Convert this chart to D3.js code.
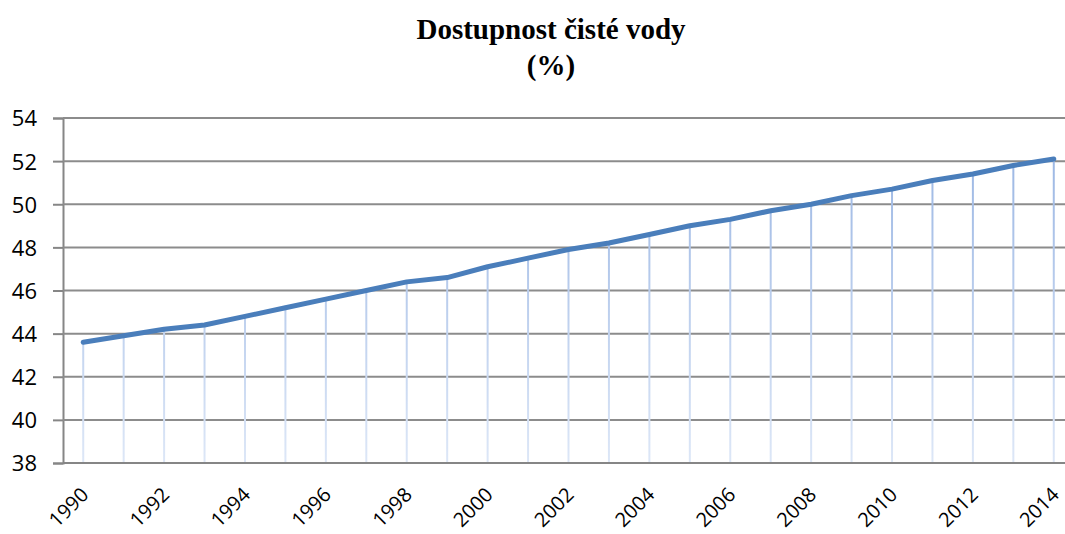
<!DOCTYPE html>
<html>
<head>
<meta charset="utf-8">
<script src="https://cdn.jsdelivr.net/npm/d3@7"></script>
<style>
  body { margin: 0; background: #fff; }
  svg { display: block; }
</style>
</head>
<body>
<div id="chart"></div>
<script>
// values
const years = d3.range(1990, 2015).map(String);
const waterAccess = [43.6, 43.9, 44.2, 44.4, 44.8, 45.2, 45.6, 46.0, 46.4, 46.6,
                     47.1, 47.5, 47.9, 48.2, 48.6, 49.0, 49.3, 49.7, 50.0, 50.4,
                     50.7, 51.1, 51.4, 51.8, 52.1];
const yTicks = [38, 40, 42, 44, 46, 48, 50, 52, 54];
const xLabels = years.filter((d, i) => i % 2 === 0);
const titleLines = ['Dostupnost čisté vody', '(%)'];

const width = 1065;
const height = 534;
const margin = { top: 118, right: -9, bottom: 71, left: 63 };
const labelFont = '"Open Sans", "Liberation Sans", sans-serif';

const svg = d3.select('#chart')
  .append('svg')
  .attr('width', width)
  .attr('height', height);

const x = d3.scalePoint()
  .domain(years)
  .range([margin.left, width - margin.right])
  .padding(0.5);

const y = d3.scaleLinear()
  .domain([38, 54])
  .range([height - margin.bottom, margin.top]);

// fading drop lines
const defs = svg.append('defs');
const grad = defs.append('linearGradient')
  .attr('id', 'dropFade')
  .attr('gradientUnits', 'userSpaceOnUse')
  .attr('x1', 0).attr('x2', 0)
  .attr('y1', y(52)).attr('y2', y(38));
grad.append('stop').attr('offset', '0%').attr('stop-color', '#9db8e4');
grad.append('stop').attr('offset', '100%').attr('stop-color', '#dde7f7');

// y axis
const yAxis = svg.append('g')
  .attr('transform', `translate(${margin.left},0)`)
  .call(d3.axisLeft(y).tickValues(yTicks).tickSize(10).tickPadding(16));
yAxis.select('.domain').attr('stroke', '#868686').attr('stroke-width', 2);
yAxis.selectAll('.tick line').attr('stroke', '#868686').attr('stroke-width', 2);
yAxis.selectAll('.tick text')
  .attr('fill', '#000')
  .attr('dy', '0.36em')
  .style('font-family', labelFont)
  .style('font-size', '22px');

// horizontal gridlines
svg.append('g')
  .selectAll('line')
  .data(yTicks.slice(1))
  .enter()
  .append('line')
  .attr('x1', margin.left)
  .attr('x2', width)
  .attr('y1', d => y(d))
  .attr('y2', d => y(d))
  .attr('stroke', '#8c8c8c')
  .attr('stroke-width', 2);

// drop lines
svg.append('g')
  .selectAll('line')
  .data(waterAccess)
  .enter()
  .append('line')
  .attr('x1', (d, i) => x(years[i]))
  .attr('x2', (d, i) => x(years[i]))
  .attr('y1', d => y(d))
  .attr('y2', y(38))
  .attr('stroke', 'url(#dropFade)')
  .attr('stroke-width', 2);

// x axis
const xAxis = svg.append('g')
  .attr('transform', `translate(0,${y(38)})`)
  .call(d3.axisBottom(x).tickValues(xLabels).tickSize(0).tickPadding(0));
xAxis.select('.domain').remove();
svg.append('line')
  .attr('x1', margin.left).attr('x2', width)
  .attr('y1', y(38)).attr('y2', y(38))
  .attr('stroke', '#868686').attr('stroke-width', 2);
xAxis.selectAll('.tick text')
  .attr('fill', '#000')
  .style('font-family', labelFont)
  .style('font-size', '20px')
  .attr('text-anchor', 'end')
  .attr('y', 0)
  .attr('dy', 0)
  .attr('transform', 'translate(6,33) rotate(-45)');

// series line
const line = d3.line()
  .x((d, i) => x(years[i]))
  .y(d => y(d));

svg.append('path')
  .datum(waterAccess)
  .attr('d', line)
  .attr('fill', 'none')
  .attr('stroke', '#4a7ebb')
  .attr('stroke-width', 5)
  .attr('stroke-linejoin', 'round')
  .attr('stroke-linecap', 'round');

// title
svg.append('text')
  .attr('text-anchor', 'middle')
  .style('font-family', '"Liberation Serif", "Times New Roman", serif')
  .style('font-weight', 'bold')
  .style('font-size', '29px')
  .selectAll('tspan')
  .data(titleLines)
  .enter()
  .append('tspan')
  .attr('x', 551)
  .attr('y', (d, i) => 39 + i * 36)
  .text(d => d);
</script>
</body>
</html>
